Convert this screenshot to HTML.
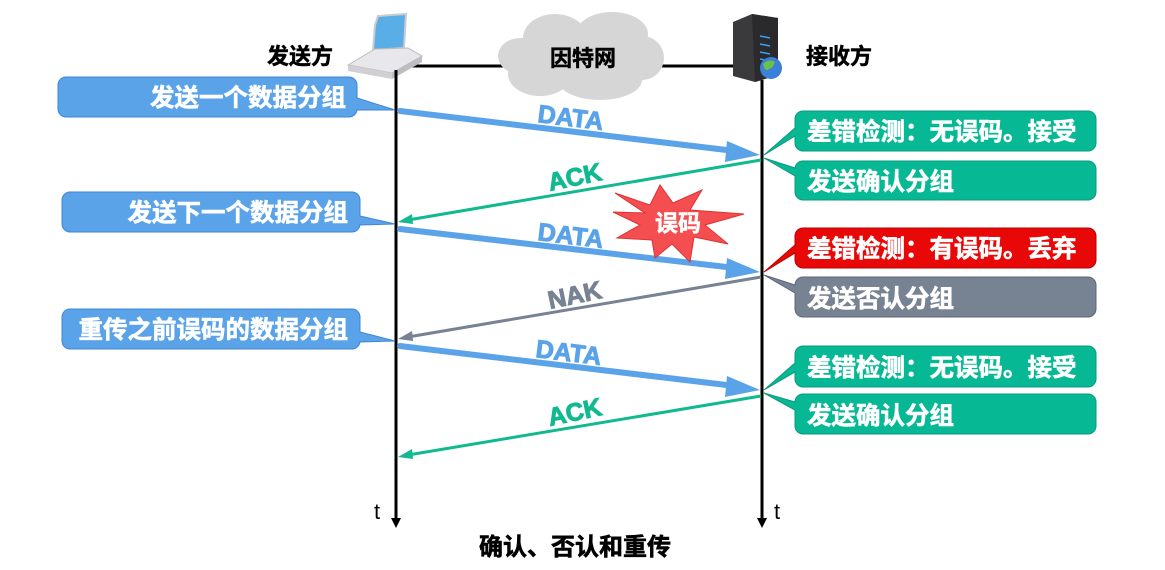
<!DOCTYPE html>
<html><head><meta charset="utf-8"><style>
html,body{margin:0;padding:0;background:#fff;}
svg{display:block;}
text{font-family:"Liberation Sans","Noto Sans CJK SC",sans-serif;font-weight:bold;}
</style></head><body>
<svg width="1165" height="570" viewBox="0 0 1165 570" xmlns="http://www.w3.org/2000/svg">
<line x1="405" y1="66" x2="740" y2="66" stroke="#000" stroke-width="3"/>
<g fill="#d6d6d6">
<ellipse cx="585" cy="58" rx="74" ry="28"/>
<ellipse cx="555" cy="38" rx="32" ry="24"/>
<ellipse cx="612" cy="34" rx="36" ry="22"/>
<ellipse cx="540" cy="74" rx="32" ry="22"/>
<ellipse cx="600" cy="80" rx="42" ry="20"/>
<ellipse cx="642" cy="58" rx="22" ry="22"/>
<ellipse cx="520" cy="56" rx="22" ry="18"/>
</g>
<text x="583" y="66" font-size="22" text-anchor="middle" fill="#000" stroke="#000" stroke-width="0.5">因特网</text>
<polygon points="375,25 378,16 406,14 404,48 373,50" fill="#5aaee8" stroke="#ccc" stroke-width="2"/>
<polygon points="348,65 375,49 408,48 422,56 392,73" fill="#e8e8ec" stroke="#bbb"/>
<polygon points="348,65 392,73 392,79 348,71" fill="#cfcfd4"/>
<polygon points="392,73 422,56 422,62 392,79" fill="#bdbdc2"/>
<polygon points="733,22 752,14 778,18 778,75 755,82 733,76" fill="#3a3a3c"/>
<polygon points="752,14 778,18 778,75 755,82" fill="#2a2a2c"/>
<g stroke="#3ba0f0" stroke-width="1.5"><line x1="760" y1="36" x2="770" y2="38"/><line x1="760" y1="44" x2="770" y2="46"/><line x1="760" y1="52" x2="770" y2="54"/><line x1="760" y1="59" x2="770" y2="61"/></g>
<circle cx="771" cy="68" r="11" fill="#3b7fd8"/>
<path d="M763,64 q6,-6 12,-2 q-2,6 -6,7 q-4,4 -6,-5z" fill="#6cc04a"/>
<text x="267" y="64" font-size="22" fill="#000" stroke="#000" stroke-width="0.5">发送方</text>
<text x="806" y="64" font-size="22" fill="#000" stroke="#000" stroke-width="0.5">接收方</text>
<line x1="396" y1="70" x2="396" y2="520" stroke="#000" stroke-width="3"/>
<polygon points="391,518 401,518 396,528" fill="#000"/>
<line x1="762" y1="80" x2="762" y2="520" stroke="#000" stroke-width="3"/>
<polygon points="757,518 767,518 762,528" fill="#000"/>
<text x="374" y="519" font-size="22" style="font-weight:normal" fill="#000">t</text>
<text x="774" y="519" font-size="22" style="font-weight:normal" fill="#000">t</text>
<text x="575" y="555" font-size="24" text-anchor="middle" fill="#000" stroke="#000" stroke-width="0.6">确认、否认和重传</text>

<g fill="#5ba3e8" stroke="#3f86d6" stroke-width="1">
<path d="M66,77 H349 a8,8 0 0 1 8,8 V98 L395,110 L357,110 V109 a8,8 0 0 1 -8,8 H66 a8,8 0 0 1 -8,-8 V85 a8,8 0 0 1 8,-8z"/>
<path d="M70,192 H352 a8,8 0 0 1 8,8 V216 L395,224 L360,225 V224 a8,8 0 0 1 -8,8 H70 a8,8 0 0 1 -8,-8 V200 a8,8 0 0 1 8,-8z"/>
<path d="M70,309 H352 a8,8 0 0 1 8,8 V332 L395,341 L360,342 V341 a8,8 0 0 1 -8,8 H70 a8,8 0 0 1 -8,-8 V317 a8,8 0 0 1 8,-8z"/>
</g>
<g fill="#fff" stroke="#fff" stroke-width="0.6" font-size="24.5" text-anchor="end">
<text x="346" y="106">发送一个数据分组</text>
<text x="348" y="221">发送下一个数据分组</text>
<text x="348" y="338">重传之前误码的数据分组</text>
</g>

<g stroke-width="1">
<path d="M803,111 H1088 a8,8 0 0 1 8,8 V143 a8,8 0 0 1 -8,8 H803 a8,8 0 0 1 -8,-8 V136 L764,155 L795,128 V119 a8,8 0 0 1 8,-8z" fill="#06b894" stroke="#0a9a7c"/>
<path d="M803,161 H1088 a8,8 0 0 1 8,8 V192 a8,8 0 0 1 -8,8 H803 a8,8 0 0 1 -8,-8 V176 L764,158 L795,168 a8,8 0 0 1 8,-7z" fill="#06b894" stroke="#0a9a7c"/>
<path d="M803,228 H1088 a8,8 0 0 1 8,8 V260 a8,8 0 0 1 -8,8 H803 a8,8 0 0 1 -8,-8 V253 L764,272 L795,245 V236 a8,8 0 0 1 8,-8z" fill="#e80808" stroke="#b00"/>
<path d="M803,277 H1088 a8,8 0 0 1 8,8 V309 a8,8 0 0 1 -8,8 H803 a8,8 0 0 1 -8,-8 V293 L764,275 L795,285 a8,8 0 0 1 8,-8z" fill="#778293" stroke="#5d6778"/>
<path d="M803,346 H1088 a8,8 0 0 1 8,8 V379 a8,8 0 0 1 -8,8 H803 a8,8 0 0 1 -8,-8 V372 L764,390 L795,363 V354 a8,8 0 0 1 8,-8z" fill="#06b894" stroke="#0a9a7c"/>
<path d="M803,394 H1088 a8,8 0 0 1 8,8 V426 a8,8 0 0 1 -8,8 H803 a8,8 0 0 1 -8,-8 V410 L764,393 L795,402 a8,8 0 0 1 8,-8z" fill="#06b894" stroke="#0a9a7c"/>
</g>
<g fill="#fff" stroke="#fff" stroke-width="0.6" font-size="24.5">
<text x="807" y="140">差错检测：无误码。接受</text>
<text x="807" y="190">发送确认分组</text>
<text x="807" y="257">差错检测：有误码。丢弃</text>
<text x="807" y="307">发送否认分组</text>
<text x="807" y="376">差错检测：无误码。接受</text>
<text x="807" y="424">发送确认分组</text>
</g>

<g stroke="#5ba3e8" stroke-width="6" stroke-linecap="round" fill="#5ba3e8">
<line x1="400" y1="111" x2="735" y2="151"/>
<line x1="400" y1="229" x2="735" y2="268"/>
<line x1="400" y1="346" x2="735" y2="386"/>
</g>
<g fill="#5ba3e8">
<polygon points="727,141 760,155 725,162"/>
<polygon points="727,258 760,272 725,279"/>
<polygon points="727,376 760,390 725,397"/>
</g>
<line x1="761" y1="160" x2="408" y2="220" stroke="#10b990" stroke-width="3"/>
<polygon points="398,222 412,214 413,224" fill="#10b990"/>
<line x1="761" y1="277" x2="408" y2="337" stroke="#778293" stroke-width="3"/>
<polygon points="398,339 412,331 413,341" fill="#778293"/>
<line x1="761" y1="396" x2="408" y2="455" stroke="#10b990" stroke-width="3"/>
<polygon points="398,457 412,449 413,459" fill="#10b990"/>

<g font-size="25" stroke-width="1">
<text fill="#5ba3e8" stroke="#5ba3e8" transform="translate(537,122) rotate(7)">DATA</text>
<text fill="#5ba3e8" stroke="#5ba3e8" transform="translate(537,240) rotate(7)">DATA</text>
<text fill="#5ba3e8" stroke="#5ba3e8" transform="translate(535,357) rotate(7)">DATA</text>
<text fill="#10b990" stroke="#10b990" transform="translate(550,191) rotate(-12)">ACK</text>
<text fill="#778293" stroke="#778293" transform="translate(550,309) rotate(-12)">NAK</text>
<text fill="#10b990" stroke="#10b990" transform="translate(550,426) rotate(-12)">ACK</text>
</g>

<polygon points="615,193 650,205 660,185 673,203 702,190 690,210 744,214 705,225 728,244 694,237 690,262 672,244 655,258 652,240 617,238 640,225 613,212 645,213" fill="#f44e50" stroke="#d33" stroke-width="1"/>
<text x="678" y="231" font-size="23" fill="#fff" stroke="#fff" stroke-width="0.5" text-anchor="middle">误码</text>
</svg>
</body></html>
